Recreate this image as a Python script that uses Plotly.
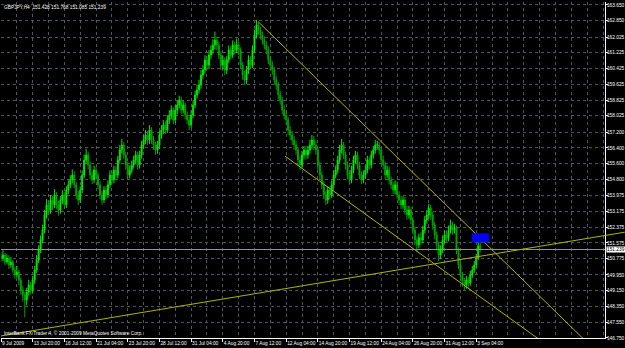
import plotly.graph_objects as go

# ---------------- data ----------------
header_text = "GBPJPY,H4  151.428 151.768 151.085 151.239"
copyright_text = "InterBank FX Trader 4, \u00a9 2001-2009 MetaQuotes Software Corp."

first_open = 150.90
close = [
    150.81, 150.96, 150.61, 150.81, 150.45, 150.61, 150.20, 149.95, 150.10, 149.69,
    149.18, 148.93, 148.68, 149.08, 149.44, 149.18, 149.69, 150.20, 150.71, 151.21,
    151.72, 152.23, 152.99, 153.50, 153.24, 153.75, 153.50, 154.01, 153.50, 153.24,
    153.75, 154.01, 153.50, 154.26, 154.52, 154.77, 155.02, 154.52, 154.01, 153.75,
    154.26, 155.02, 155.78, 156.04, 155.53, 155.02, 154.77, 155.27, 155.02, 154.52,
    154.01, 153.75, 154.26, 154.01, 154.52, 155.02, 154.77, 155.27, 155.02, 155.78,
    156.29, 156.54, 156.04, 155.53, 155.02, 155.27, 155.53, 155.78, 156.04, 155.53,
    156.04, 156.54, 156.80, 157.05, 156.80, 157.30, 156.80, 156.54, 156.29, 156.54,
    157.05, 157.30, 157.56, 157.30, 157.81, 158.07, 158.32, 157.81, 158.32, 158.57,
    158.83, 158.32, 158.57, 158.07, 157.81, 157.56, 158.07, 158.57, 159.08, 159.34,
    159.59, 160.10, 160.35, 160.86, 160.60, 161.11, 161.37, 161.62, 161.87, 161.62,
    161.11, 160.60, 160.86, 160.35, 160.86, 161.37, 161.11, 161.62, 161.37, 161.62,
    161.37, 160.60, 160.10, 159.84, 160.35, 160.86, 160.60, 161.37, 162.13, 162.64,
    162.38, 162.13, 161.87, 161.62, 161.37, 160.86, 160.60, 160.35, 159.84, 159.59,
    159.08, 158.83, 158.32, 158.07, 157.81, 157.30, 157.05, 156.80, 156.54, 156.29,
    155.78, 155.53, 156.04, 156.29, 156.04, 156.29, 156.54, 156.80, 156.54, 156.29,
    155.53, 155.02, 154.52, 154.01, 153.75, 154.26, 154.01, 154.52, 155.02, 155.27,
    155.78, 156.29, 156.54, 156.04, 155.53, 155.02, 154.77, 155.27, 155.78, 156.04,
    155.53, 155.02, 154.77, 155.02, 155.27, 155.78, 155.53, 156.04, 156.29, 156.54,
    156.54, 156.29, 155.78, 155.53, 155.02, 155.27, 154.77, 154.52, 154.26, 154.52,
    154.01, 153.75, 153.50, 153.75, 153.24, 152.99, 153.24, 152.74, 152.23, 151.72,
    151.47, 151.83, 151.72, 152.23, 152.74, 152.99, 153.34, 152.99, 152.48, 151.98,
    151.47, 150.96, 151.21, 151.72, 151.98, 151.83, 152.23, 152.48, 152.23, 152.33,
    151.21, 150.45, 149.95, 149.59, 149.44, 149.69, 149.54, 149.95, 150.20, 150.45,
    150.81, 151.428, 151.239,
]
high = [
    151.10, 151.20, 151.05, 151.00, 150.95, 150.85, 150.70, 150.35, 150.40, 150.20,
    149.80, 149.40, 149.10, 149.30, 149.70, 149.60, 149.90, 150.40, 150.95, 151.45,
    151.95, 152.50, 153.25, 153.80, 153.70, 154.00, 153.95, 154.30, 154.15, 153.70,
    153.95, 154.25, 154.15, 154.45, 154.75, 155.00, 155.30, 155.20, 154.65, 154.20,
    154.45, 155.25, 156.05, 156.35, 156.20, 155.70, 155.20, 155.50, 155.45, 155.15,
    154.70, 154.20, 154.45, 154.45, 154.75, 155.25, 155.20, 155.50, 155.45, 156.00,
    156.55, 156.85, 156.70, 156.20, 155.70, 155.50, 155.75, 156.00, 156.25, 156.20,
    156.25, 156.75, 157.05, 157.30, 157.25, 157.55, 157.45, 157.00, 156.70, 156.75,
    157.25, 157.55, 157.80, 157.75, 158.05, 158.30, 158.55, 158.45, 158.55, 158.80,
    159.05, 159.00, 158.80, 158.70, 158.25, 158.00, 158.30, 158.80, 159.30, 159.60,
    159.85, 160.35, 160.60, 161.10, 161.05, 161.35, 161.60, 161.90, 162.30, 162.05,
    161.80, 161.30, 161.10, 161.00, 161.05, 161.60, 161.55, 161.85, 161.80, 161.95,
    161.80, 161.50, 160.75, 160.30, 160.55, 161.10, 161.05, 161.60, 162.40, 162.90,
    162.80, 162.55, 162.30, 162.05, 161.80, 161.55, 161.05, 160.80, 160.50, 160.05,
    159.75, 159.30, 159.00, 158.55, 158.25, 157.95, 157.50, 157.25, 157.00, 156.75,
    156.45, 156.00, 156.25, 156.50, 156.50, 156.50, 156.80, 157.05, 157.00, 156.75,
    156.45, 155.70, 155.20, 154.70, 154.20, 154.45, 154.45, 154.75, 155.25, 155.50,
    156.00, 156.55, 156.85, 156.70, 156.20, 155.70, 155.20, 155.50, 156.00, 156.25,
    156.20, 155.70, 155.20, 155.25, 155.50, 156.00, 155.95, 156.25, 156.50, 156.80,
    156.75, 156.70, 156.45, 156.00, 155.70, 155.50, 155.45, 154.95, 154.70, 154.75,
    154.70, 154.20, 153.95, 153.95, 153.90, 153.45, 153.45, 153.40, 152.90, 152.40,
    151.90, 152.05, 152.10, 152.45, 152.95, 153.25, 153.55, 153.50, 153.15, 152.65,
    152.15, 151.65, 151.45, 151.95, 152.20, 152.20, 152.45, 152.75, 152.65, 152.55,
    152.45, 151.35, 150.60, 150.10, 149.80, 149.90, 149.85, 150.15, 150.40, 150.65,
    151.00, 151.65, 151.768,
]
low = [
    150.60, 150.65, 150.45, 150.50, 150.25, 150.30, 150.05, 149.75, 149.80, 149.45,
    148.95, 148.60, 147.80, 148.40, 148.90, 148.95, 149.00, 149.50, 150.05, 150.55,
    151.05, 151.55, 152.05, 152.80, 153.00, 153.05, 153.25, 153.35, 153.30, 152.95,
    153.05, 153.55, 153.30, 153.35, 154.05, 154.35, 154.60, 154.35, 153.80, 153.50,
    153.60, 154.10, 154.85, 155.60, 155.30, 154.80, 154.55, 154.60, 154.80, 154.30,
    153.80, 153.50, 153.60, 153.80, 153.85, 154.35, 154.55, 154.60, 154.80, 154.85,
    155.60, 156.10, 155.85, 155.30, 154.80, 154.85, 155.10, 155.35, 155.60, 155.30,
    155.35, 155.85, 156.35, 156.60, 156.55, 156.60, 156.60, 156.30, 156.05, 156.10,
    156.35, 156.85, 157.10, 157.10, 157.15, 157.60, 157.85, 157.60, 157.65, 158.10,
    158.40, 158.10, 158.15, 157.85, 157.60, 157.30, 157.40, 157.90, 158.40, 158.90,
    159.15, 159.40, 159.90, 160.15, 160.35, 160.40, 160.90, 161.15, 161.40, 161.35,
    160.90, 160.35, 160.40, 160.10, 160.15, 160.70, 160.90, 160.95, 161.15, 161.20,
    161.10, 160.40, 159.85, 159.60, 159.65, 160.15, 160.40, 160.45, 161.20, 161.95,
    162.15, 161.90, 161.65, 161.40, 161.15, 160.65, 160.35, 160.10, 159.60, 159.35,
    158.85, 158.60, 158.10, 157.85, 157.55, 157.05, 156.80, 156.55, 156.30, 156.05,
    155.50, 155.25, 155.35, 155.85, 155.80, 155.85, 156.10, 156.35, 156.30, 156.05,
    155.30, 154.80, 154.30, 153.80, 153.50, 153.55, 153.80, 153.85, 154.35, 154.85,
    155.10, 155.60, 156.10, 155.85, 155.30, 154.80, 154.55, 154.60, 155.10, 155.60,
    155.30, 154.80, 154.55, 154.60, 154.85, 155.10, 155.30, 155.35, 155.85, 156.10,
    156.30, 156.05, 155.55, 155.30, 154.80, 154.85, 154.55, 154.30, 154.05, 154.05,
    153.80, 153.50, 153.30, 153.30, 153.00, 152.75, 152.80, 152.50, 152.00, 151.45,
    151.10, 151.30, 151.50, 151.55, 152.05, 152.55, 152.80, 152.75, 152.25, 151.75,
    151.20, 150.65, 150.75, 151.05, 151.55, 151.60, 151.65, 152.05, 152.00, 152.05,
    151.00, 150.25, 149.70, 149.35, 149.20, 149.25, 149.30, 149.40, 149.80, 150.05,
    150.30, 150.70, 151.085,
]
opens = [first_open] + close[:-1]
bars = list(range(len(close)))

date_labels = ["9 Jul 2009", "13 Jul 20:00", "16 Jul 12:00", "21 Jul 04:00",
               "23 Jul 20:00", "28 Jul 12:00", "31 Jul 04:00", "4 Aug 20:00",
               "7 Aug 12:00", "12 Aug 04:00", "14 Aug 20:00", "19 Aug 12:00",
               "24 Aug 04:00", "26 Aug 20:00", "31 Aug 12:00", "3 Sep 04:00"]
label_bars = [0, 16, 32, 48, 64, 80, 96, 112, 128, 144, 160, 176, 192, 208, 224, 240]

price_ticks = [163.650, 162.850, 162.025, 161.225, 160.425, 159.625, 158.825,
               158.025, 157.200, 156.400, 155.600, 154.800, 153.975, 153.175,
               152.375, 151.575, 150.775, 149.950, 149.150, 148.350, 147.550,
               146.750]

# trend line anchors (bar, price)
upper_line = [(130, 162.79), (241.9, 151.82)]
lower_line = [(143.4, 155.98), (270.7, 146.75)]
rising_line = [(0, 146.85), (201.5, 150.22)]

rect_bars = [237.7, 246.5]
rect_prices = [151.60, 152.06]

# ---------------- style ----------------
X_RANGE = [0, 305]
Y_RANGE = [146.746, 163.802]
GRID = "#50575e"
LINE_COL = "#b4b400"
FONT = "Liberation Sans"
FS = 4.8

fig = go.Figure()

fig.add_trace(go.Candlestick(
    x=bars, open=opens, high=high, low=low, close=close,
    increasing=dict(line=dict(color="#00e600", width=1), fillcolor="#33ff33"),
    decreasing=dict(line=dict(color="#00a000", width=1), fillcolor="#00c000"),
    whiskerwidth=0, hoverinfo="skip", showlegend=False,
))


def ray(anchors, x_start, x_end):
    (xa, ya), (xb, yb) = anchors
    k = (yb - ya) / (xb - xa)
    return [x_start, x_end], [ya + k * (x_start - xa), ya + k * (x_end - xa)]


for anchors in (upper_line, lower_line):
    xs, ys = ray(anchors, anchors[0][0], X_RANGE[1] + 20)
    fig.add_trace(go.Scatter(x=xs, y=ys, mode="lines",
                             line=dict(color=LINE_COL, width=1),
                             hoverinfo="skip", showlegend=False))

# rising line drawn as a shape so it continues over the price scale like MT4
span = X_RANGE[1] - X_RANGE[0]
xs, ys = ray(rising_line, rising_line[0][0], X_RANGE[1] + 10)
fig.add_shape(type="line", xref="paper", yref="y",
              x0=(xs[0] - X_RANGE[0]) / span, x1=(xs[1] - X_RANGE[0]) / span,
              y0=ys[0], y1=ys[1], line=dict(color=LINE_COL, width=1),
              layer="above")

fig.add_shape(type="rect", xref="x", yref="y",
              x0=rect_bars[0], x1=rect_bars[1],
              y0=rect_prices[0], y1=rect_prices[1],
              fillcolor="#0000ff", line=dict(width=0), layer="above")

fig.add_shape(type="line", xref="paper", yref="y", x0=0, x1=1,
              y0=close[-1], y1=close[-1],
              line=dict(color="#8a96a2", width=1), layer="above")

fig.add_annotation(xref="paper", yref="y", x=1, y=close[-1],
                   text=f"{close[-1]:.3f}", showarrow=False,
                   xanchor="left", yanchor="middle", xshift=1,
                   bgcolor="white", borderpad=0,
                   font=dict(family=FONT, size=FS, color="black"))

fig.add_annotation(xref="paper", yref="paper", x=0, y=1, xshift=1, yshift=-1,
                   xanchor="left", yanchor="top", text=header_text,
                   showarrow=False, font=dict(family=FONT, size=FS, color="white"))
fig.add_annotation(xref="paper", yref="paper", x=0, y=0, xshift=1, yshift=0,
                   xanchor="left", yanchor="bottom", text=copyright_text,
                   showarrow=False, font=dict(family=FONT, size=FS, color="white"))

fig.update_layout(
    width=625, height=348,
    margin=dict(l=1, r=20, t=2, b=10, autoexpand=False),
    paper_bgcolor="black", plot_bgcolor="black",
    showlegend=False,
    font=dict(family=FONT, size=FS, color="white"),
    xaxis=dict(
        range=X_RANGE, tickmode="array", tickvals=label_bars, ticktext=date_labels,
        tickangle=0, automargin=False,
        ticks="outside", ticklen=3, tickcolor="white",
        ticklabelposition="outside right",
        showgrid=True, gridcolor=GRID, griddash="dot", gridwidth=1,
        minor=dict(tick0=0, dtick=8, showgrid=True, gridcolor=GRID,
                   griddash="dot", ticks=""),
        showline=True, linecolor="white", linewidth=1,
        zeroline=False, rangeslider=dict(visible=False), fixedrange=True,
    ),
    yaxis=dict(
        range=Y_RANGE, side="right", tickmode="array", tickvals=price_ticks,
        ticktext=[f"{p:.3f}" for p in price_ticks], automargin=False,
        ticks="outside", ticklen=2, tickcolor="white", ticklabelstandoff=-2,
        showgrid=True, gridcolor=GRID, griddash="dot", gridwidth=1,
        showline=True, linecolor="white", linewidth=1,
        zeroline=False, fixedrange=True,
    ),
)

fig.write_html("out.html")
